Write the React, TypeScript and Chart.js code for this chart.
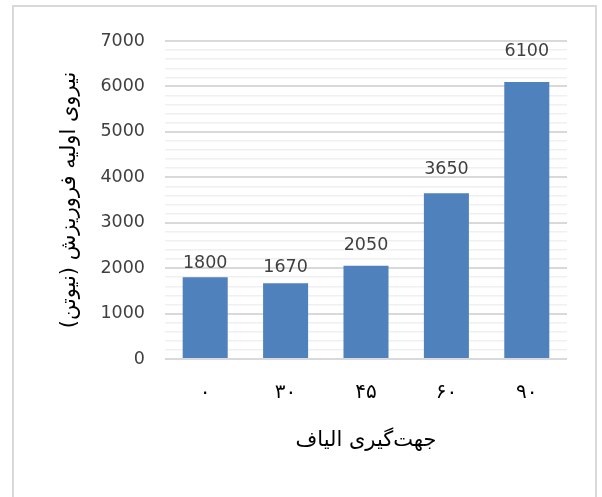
import React, { useEffect, useRef } from "react";
import { Chart, registerables } from "chart.js";

Chart.register(...registerables);

// Fibre orientation (degrees, Persian digits) and initial collapse force (N)
const categories: string[] = ["۰", "۳۰", "۴۵", "۶۰", "۹۰"];
const forceValues: number[] = [1800, 1670, 2050, 3650, 6100];
const yTickMax = 7000;
const yMajorStep = 1000;
const yMinorStep = 200;

const xTitle = "جهت‌گیری الیاف";
const yTitle = "نیروی اولیه فروریزش (نیوتن)";

const LATIN_FONT = "'DejaVu Sans', sans-serif";
const PERSIAN_FONT = "'DejaVu Sans', 'Noto Sans', sans-serif";

// Distance (px) between each bar top and the centre of its value label
const labelLift = [14, 16, 20, 24, 30];

// Draws each bar's value just above it
const valueLabels = {
  id: "valueLabels",
  afterDatasetsDraw(chart: any) {
    const { ctx } = chart;
    const meta = chart.getDatasetMeta(0);
    ctx.save();
    ctx.font = `17.5px ${LATIN_FONT}`;
    ctx.fillStyle = "#404040";
    ctx.textAlign = "center";
    ctx.textBaseline = "middle";
    meta.data.forEach((bar: any, i: number) => {
      const v = chart.data.datasets[0].data[i];
      ctx.fillText(String(v), bar.x, bar.y - (labelLift[i] ?? 14));
    });
    ctx.restore();
  },
};

export default function App() {
  const canvasRef = useRef<HTMLCanvasElement | null>(null);

  useEffect(() => {
    if (!canvasRef.current) return;
    const chart = new Chart(canvasRef.current, {
      type: "bar",
      data: {
        labels: categories,
        datasets: [
          {
            data: forceValues,
            backgroundColor: "#4f81bd",
            categoryPercentage: 1,
            barPercentage: 0.56,
          },
        ],
      },
      plugins: [valueLabels],
      options: {
        animation: false,
        responsive: false,
        maintainAspectRatio: false,
        layout: { padding: { left: 50, right: 35, top: 41, bottom: 38 } },
        plugins: {
          legend: { display: false },
          tooltip: { enabled: false },
        },
        scales: {
          x: {
            grid: { display: false },
            border: { display: false },
            ticks: {
              color: "#000000",
              padding: 14,
              font: { family: PERSIAN_FONT, size: 20 },
            },
            title: {
              display: true,
              text: xTitle,
              color: "#000000",
              font: { family: PERSIAN_FONT, size: 21 },
              padding: { top: 0, bottom: 6 },
            },
            afterFit(scale: any) {
              scale.height = 100;
            },
          },
          y: {
            min: 0,
            max: yTickMax,
            border: { display: false },
            grid: {
              drawTicks: false,
              color: (c: any) =>
                c.tick && c.tick.value % yMajorStep === 0 ? "#d9d9d9" : "#f0f0f0",
              lineWidth: (c: any) =>
                c.tick && c.tick.value % yMajorStep === 0 ? 2 : 1.5,
            },
            ticks: {
              stepSize: yMinorStep,
              autoSkip: false,
              padding: 20,
              color: "#404040",
              font: { family: LATIN_FONT, size: 17.5 },
              callback: (v: any) => (Number(v) % yMajorStep === 0 ? String(v) : ""),
            },
            title: {
              display: true,
              text: yTitle,
              color: "#000000",
              font: { family: PERSIAN_FONT, size: 21 },
              padding: { top: 7, bottom: 0 },
            },
            afterFit(scale: any) {
              scale.width = 115;
            },
          },
        },
      },
    });
    return () => chart.destroy();
  }, []);

  return (
    <div
      style={{
        position: "fixed",
        left: 0,
        top: 0,
        width: 602,
        height: 497,
        background: "#ffffff",
        overflow: "hidden",
      }}
    >
      <div
        style={{
          position: "absolute",
          left: 12,
          top: 5,
          width: 585,
          height: 520,
          border: "2px solid #d9d9d9",
          boxSizing: "border-box",
        }}
      />
      <canvas
        ref={canvasRef}
        width={602}
        height={497}
        style={{ position: "absolute", left: 0, top: 0, width: 602, height: 497 }}
      />
    </div>
  );
}
